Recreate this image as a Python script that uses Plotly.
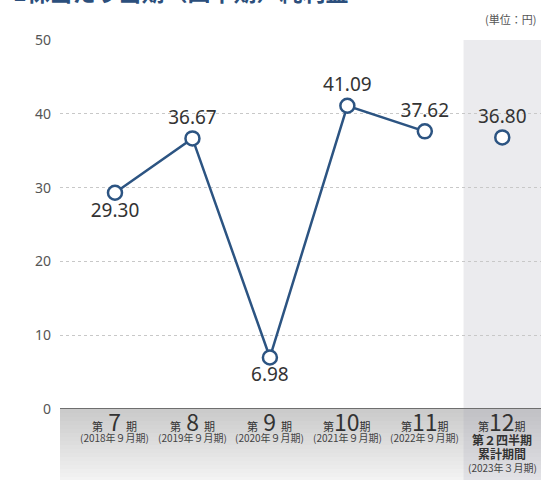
import plotly.graph_objects as go

periods = ["7", "8", "9", "10", "11", "12"]
period_notes = ["(2018年９月期)", "(2019年９月期)", "(2020年９月期)", "(2021年９月期)", "(2022年９月期)", "(2023年３月期)"]
eps_values = [29.30, 36.67, 6.98, 41.09, 37.62, 36.80]
label_positions = ["bottom center", "top center", "bottom center", "top center", "top center", "top center"]
y_ticks = [0, 10, 20, 30, 40, 50]
title_text = "1株当たり当期（四半期）純利益"
unit_text = "(単位：円)"
last_extra_lines = ["第２四半期", "累計期間"]

FONT = "Noto Sans, Noto Sans CJK JP, sans-serif"
CJK = "Noto Sans CJK JP, Noto Sans, sans-serif"
LINE = "#2c5482"

PLOT_TOP, PLOT_BOTTOM = 40, 409
H = PLOT_BOTTOM - PLOT_TOP


def py(p):
    return (PLOT_BOTTOM - p) / H


xs = list(range(len(periods)))
n_hist = len(periods) - 1

fig = go.Figure()

fig.add_trace(go.Scatter(
    x=xs[:n_hist], y=eps_values[:n_hist],
    mode="lines+markers+text",
    line=dict(color=LINE, width=2.5),
    marker=dict(size=14, color="white", line=dict(color=LINE, width=2.5)),
    text=[f"{v:.2f}" for v in eps_values[:n_hist]],
    textposition=label_positions[:n_hist],
    textfont=dict(family=FONT, size=19, color="#333"),
    cliponaxis=False, hoverinfo="skip", showlegend=False,
))
fig.add_trace(go.Scatter(
    x=xs[n_hist:], y=eps_values[n_hist:],
    mode="markers+text",
    marker=dict(size=14, color="white", line=dict(color=LINE, width=2.5)),
    text=[f"{v:.2f}" for v in eps_values[n_hist:]],
    textposition=label_positions[n_hist:],
    textfont=dict(family=FONT, size=19, color="#333"),
    cliponaxis=False, hoverinfo="skip", showlegend=False,
))

shapes = []
# shaded last column
shapes.append(dict(type="rect", xref="x", yref="paper", x0=4.5, x1=5.5, y0=0, y1=1,
                   fillcolor="#ebebee", line=dict(width=0), layer="below"))
# gradient band below axis
n = 18
for i in range(n):
    t0 = i / (n - 1)
    p0 = PLOT_BOTTOM + i * 4
    p1 = PLOT_BOTTOM + (i + 1) * 4
    c = int(0xcb + (0xf3 - 0xcb) * t0)
    shapes.append(dict(type="rect", xref="paper", yref="paper", x0=0, x1=1, y0=py(p1), y1=py(p0),
                       fillcolor=f"rgb({c},{c},{c})", line=dict(width=0), layer="below"))
for i in range(n):
    t0 = i / (n - 1)
    p0 = PLOT_BOTTOM + i * 4
    p1 = PLOT_BOTTOM + (i + 1) * 4
    c = int(0xc2 + (0xe2 - 0xc2) * t0)
    shapes.append(dict(type="rect", xref="x", yref="paper", x0=4.5, x1=5.5, y0=py(p1), y1=py(p0),
                       fillcolor=f"rgb({c},{c},{c+4})", line=dict(width=0), layer="below"))
# baseline
shapes.append(dict(type="line", xref="paper", yref="y", x0=0, x1=1, y0=0, y1=0,
                   line=dict(color="#6e6e6e", width=2), layer="above"))

annotations = []
for i, (p, note) in enumerate(zip(periods, period_notes)):
    gap = " " if len(p) == 1 else ""
    first = (f'<span style="font-size:11px">第</span>{gap}'
             f'<span style="font-size:23px">{p}</span>{gap}'
             f'<span style="font-size:11px">期</span>')
    annotations.append(dict(x=i, y=py(421), xref="x", yref="paper", text=first, showarrow=False,
                            font=dict(family=CJK, size=23, color="#333"), yanchor="middle"))
    if i < n_hist:
        annotations.append(dict(x=i, y=py(437), xref="x", yref="paper", text=note, showarrow=False,
                                font=dict(family=CJK, size=10, color="#444"), yanchor="middle"))
    else:
        annotations.append(dict(x=i, y=py(440), xref="x", yref="paper", text=f"<b>{last_extra_lines[0]}</b>",
                                showarrow=False, font=dict(family=CJK, size=12, color="#333"), yanchor="middle"))
        annotations.append(dict(x=i, y=py(453.5), xref="x", yref="paper", text=f"<b>{last_extra_lines[1]}</b>",
                                showarrow=False, font=dict(family=CJK, size=12, color="#333"), yanchor="middle"))
        annotations.append(dict(x=i, y=py(467.5), xref="x", yref="paper", text=note, showarrow=False,
                                font=dict(family=CJK, size=10, color="#444"), yanchor="middle"))

annotations.append(dict(x=0, xref="paper", y=py(-9), yref="paper", xshift=-49, text=f"<b>{title_text}</b>",
                        showarrow=False, xanchor="left", yanchor="middle",
                        font=dict(family=CJK, size=23, color="#2c4f7c")))
annotations.append(dict(x=1, xref="paper", y=py(19), yref="paper", xshift=-3, text=unit_text,
                        showarrow=False, xanchor="right", yanchor="middle",
                        font=dict(family=CJK, size=11, color="#555")))

fig.update_layout(
    width=541, height=480,
    margin=dict(l=60, r=0, t=PLOT_TOP, b=480 - PLOT_BOTTOM, pad=0),
    paper_bgcolor="white", plot_bgcolor="rgba(0,0,0,0)",
    shapes=shapes, annotations=annotations,
    xaxis=dict(range=[-0.71, 5.5], showticklabels=False, showgrid=False, zeroline=False,
               fixedrange=True),
    yaxis=dict(range=[0, 50], tickvals=y_ticks, showgrid=True, gridcolor="#c8c8c8",
               griddash="dot", gridwidth=1, zeroline=False, ticks="",
               tickfont=dict(family=FONT, size=14, color="#555"), ticklabelstandoff=8,
               fixedrange=True),
    font=dict(family=FONT),
)

fig.write_html("out.html", config={"displayModeBar": False},
               post_script="document.body.style.margin='0';document.body.style.overflow='hidden';")
